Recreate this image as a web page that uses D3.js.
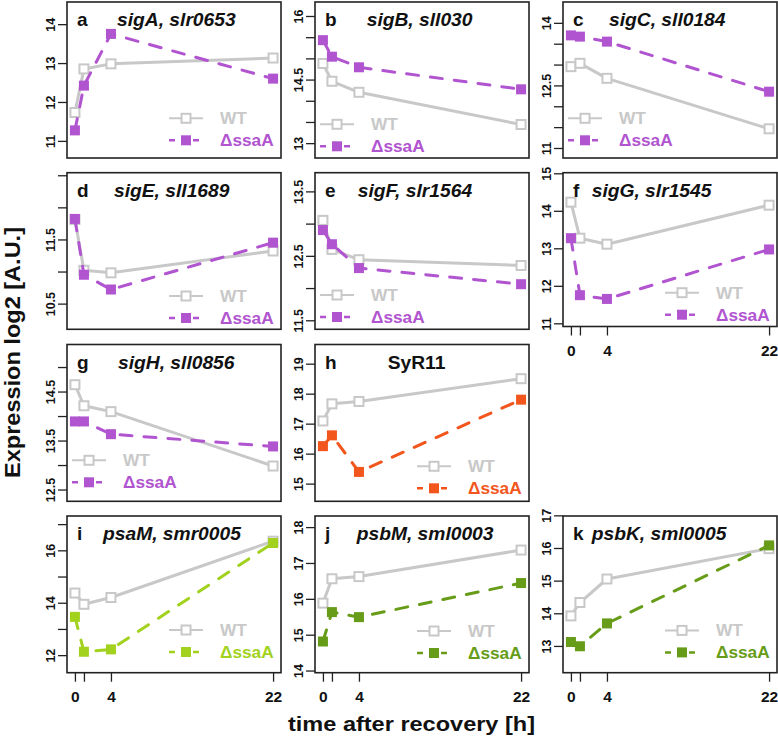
<!DOCTYPE html>
<html>
<head>
<meta charset="utf-8">
<script src="https://cdn.jsdelivr.net/npm/d3@7"></script>
<style>
  html, body { margin: 0; padding: 0; background: #ffffff; }
  svg { display: block; font-family: "Liberation Sans", Arial, Helvetica, sans-serif; }
</style>
</head>
<body>
<script>
// ---------------- DATA ----------------
const times = [0, 1, 4, 22];
const xTickLabels = ["0", "", "4", "22"];
const panelLetters = ["a", "b", "c", "d", "e", "f", "g", "h", "i", "j", "k"];
const geneNames = ["sigA, slr0653", "sigB, sll030", "sigC, sll0184", "sigE, sll1689",
  "sigF, slr1564", "sigG, slr1545", "sigH, sll0856", "SyR11",
  "psaM, smr0005", "psbM, sml0003", "psbK, sml0005"];
const seriesNames = ["WT", "ΔssaA"];

const wtValues = [
  [11.73, 12.85, 12.98, 13.13],
  [14.88, 14.46, 14.20, 13.44],
  [12.95, 13.03, 12.67, 11.46],
  [11.81, 11.02, 10.98, 11.32],
  [13.05, 12.60, 12.44, 12.35],
  [14.23, 13.27, 13.11, 14.15],
  [14.64, 14.21, 14.09, 12.98],
  [17.09, 17.66, 17.74, 18.50],
  [14.37, 13.94, 14.20, 16.35],
  [15.88, 16.56, 16.62, 17.36],
  [13.92, 14.33, 15.05, 15.98]
];
const ssaValues = [
  [11.27, 12.42, 13.75, 12.60],
  [15.43, 15.04, 14.79, 14.27],
  [13.70, 13.67, 13.55, 12.35],
  [11.82, 10.95, 10.72, 11.45],
  [12.90, 12.68, 12.31, 12.06],
  [13.27, 11.75, 11.65, 12.97],
  [13.89, 13.89, 13.63, 13.38],
  [16.25, 16.61, 15.39, 17.80],
  [13.46, 12.13, 12.22, 16.28],
  [14.81, 15.63, 15.49, 16.44],
  [13.12, 12.99, 13.69, 16.08]
];
const yDomains = [
  [10.56, 14.57], [12.65, 16.33], [10.76, 14.50], [10.10, 12.54],
  [11.36, 13.79], [10.915, 15.016], [12.26, 15.46], [14.41, 19.64],
  [11.33, 17.31], [13.94, 18.31], [12.18, 16.98]
];
const yTicks = [
  [11, 12, 13, 14],
  [13, 13.5, 14, 14.5, 15, 15.5, 16],
  [11, 11.5, 12, 12.5, 13, 13.5, 14],
  [10.5, 11, 11.5, 12, 12.5],
  [11.5, 12, 12.5, 13, 13.5],
  [11, 12, 13, 14, 15],
  [12.5, 13, 13.5, 14, 14.5, 15],
  [15, 16, 17, 18, 19],
  [12, 13, 14, 15, 16, 17],
  [14, 15, 16, 17, 18],
  [13, 14, 15, 16, 17]
];
const yTickLabels = [
  [11, 12, 13, 14],
  [13, 14.5, 16],
  [11, 12.5, 14],
  [10.5, 11.5],
  [11.5, 12.5, 13.5],
  [11, 12, 13, 14, 15],
  [12.5, 13.5, 14.5],
  [15, 16, 17, 18, 19],
  [12, 14, 16],
  [14, 15, 16, 17, 18],
  [13, 14, 15, 16, 17]
];
const xLabel = "time after recovery [h]";
const yLabel = "Expression log2 [A.U.]";

// ---------------- STYLE / LAYOUT ----------------
const wtColor = "#c8c8c8";
const mutantColors = ["#b154d0", "#b154d0", "#b154d0", "#b154d0", "#b154d0", "#b154d0",
  "#b154d0", "#f2561d", "#a2d21e", "#679c18", "#679c18"];
const gridRow = [0, 0, 0, 1, 1, 1, 2, 2, 3, 3, 3];
const gridCol = [0, 1, 2, 0, 1, 2, 0, 1, 0, 1, 2];
const hasXAxis = [false, false, false, false, false, true, false, false, true, true, true];
const italicTitle = [true, true, true, true, true, true, true, false, true, true, true];
const titleOffset = [50, 51.7, 46, 47, 42.7, 28.7, 51, 72.7, 36, 41.7, 28.7];
const legendSide = ["right", "left", "left", "right", "left", "right", "left", "right", "right", "right", "right"];
const legendOffset = [39.7, 33.7, 39.7, 33.3, 34.3, 33.8, 41, 35, 42.7, 41.7, 42.3];

const colLeft = [67, 315, 563], colRight = [281, 529, 777];
const rowTop = [2, 172.7, 344.5, 516], rowBottom = [158, 329.3, 501.3, 672.7];

const svg = d3.select("body").append("svg").attr("width", 778).attr("height", 740);

function sText(parent, x, y, str, opts) {
  const g = parent.append("g").attr("transform", `translate(${x},${y}) scale(${opts.sx || 1},1)`);
  const t = g.append("text").attr("x", 0).attr("y", 0)
    .attr("font-size", opts.size).attr("font-weight", opts.weight || "bold")
    .attr("font-style", opts.italic ? "italic" : "normal")
    .attr("text-anchor", opts.anchor || "start")
    .attr("fill", opts.fill || "#111").text(str);
  return t;
}

panelLetters.forEach((letter, p) => {
  const L = colLeft[gridCol[p]], R = colRight[gridCol[p]];
  const T = rowTop[gridRow[p]];
  const B = p === 5 ? 326.5 : rowBottom[gridRow[p]];
  const x = d3.scaleLinear().domain([-0.88, 22.88]).range([L, R]);
  const y = d3.scaleLinear().domain(yDomains[p]).range([B, T]);
  const g = svg.append("g");

  // y axis
  const yAx = g.append("g").attr("transform", `translate(${L},0)`)
    .call(d3.axisLeft(y).tickValues(yTicks[p]).tickSize(9)
      .tickFormat(d => yTickLabels[p].includes(d) ? String(d) : ""));
  yAx.select(".domain").remove();
  yAx.selectAll(".tick line").attr("stroke", "#222").attr("stroke-width", 1.3);
  yAx.selectAll(".tick text")
    .attr("x", 0).attr("y", 0).attr("dy", 0)
    .attr("text-anchor", "middle")
    .attr("transform", "translate(-12,0) rotate(-90)")
    .attr("font-size", 12.5).attr("font-weight", "bold")
    .attr("font-family", "'Liberation Sans', Arial, sans-serif")
    .attr("fill", "#111");

  // x axis
  if (hasXAxis[p]) {
    const xAx = g.append("g").attr("transform", `translate(0,${B})`)
      .call(d3.axisBottom(x).tickValues(times).tickSize(9)
        .tickFormat((d, i) => xTickLabels[i]));
    xAx.select(".domain").remove();
    xAx.selectAll(".tick line").attr("stroke", "#222").attr("stroke-width", 1.3);
    xAx.selectAll(".tick text").attr("y", 29).attr("dy", 0)
      .attr("font-size", 15.5).attr("font-weight", "bold")
      .attr("font-family", "'Liberation Sans', Arial, sans-serif")
      .attr("fill", "#111");
  }

  const line = d3.line().x((d, i) => x(times[i])).y(d => y(d));

  // WT
  g.append("path").datum(wtValues[p]).attr("d", line)
    .attr("fill", "none").attr("stroke", wtColor).attr("stroke-width", 3)
    .attr("stroke-linejoin", "round");
  g.selectAll(null).data(wtValues[p]).join("rect")
    .attr("x", (d, i) => x(times[i]) - 4.5).attr("y", d => y(d) - 4.5)
    .attr("width", 9).attr("height", 9)
    .attr("fill", "#fff").attr("stroke", wtColor).attr("stroke-width", 2);

  // mutant
  const mc = mutantColors[p];
  g.append("path").datum(ssaValues[p]).attr("d", line)
    .attr("fill", "none").attr("stroke", mc).attr("stroke-width", 3)
    .attr("stroke-dasharray", "12 12").attr("stroke-linecap", "round");
  g.selectAll(null).data(ssaValues[p]).join("rect")
    .attr("x", (d, i) => x(times[i]) - 5).attr("y", d => y(d) - 5)
    .attr("width", 10).attr("height", 10).attr("fill", mc);

  // box
  g.append("rect").attr("x", L).attr("y", T).attr("width", R - L).attr("height", B - T)
    .attr("fill", "none").attr("stroke", "#222").attr("stroke-width", 1.6);

  // title
  sText(g, L + 10, T + 24, letter, { size: 19 });
  sText(g, L + titleOffset[p], T + 24, geneNames[p], { size: 17.5, sx: 1.1, italic: italicTitle[p] });

  // legend
  const ly1 = B - legendOffset[p], ly2 = ly1 + 22;
  const lx = legendSide[p] === "right" ? R - 112 : L + 5;
  g.append("line").attr("x1", lx).attr("x2", lx + 34).attr("y1", ly1).attr("y2", ly1)
    .attr("stroke", wtColor).attr("stroke-width", 2);
  g.append("rect").attr("x", lx + 12.5).attr("y", ly1 - 4.5).attr("width", 9).attr("height", 9)
    .attr("fill", "#fff").attr("stroke", wtColor).attr("stroke-width", 2);
  g.append("line").attr("x1", lx).attr("x2", lx + 34).attr("y1", ly2).attr("y2", ly2)
    .attr("stroke", mc).attr("stroke-width", 2.5).attr("stroke-dasharray", "6 6");
  g.append("rect").attr("x", lx + 12).attr("y", ly2 - 5).attr("width", 10).attr("height", 10)
    .attr("fill", mc);
  sText(g, lx + 51, ly1 + 6, seriesNames[0], { size: 16, sx: 1.08, fill: wtColor });
  sText(g, lx + 51, ly2 + 6, seriesNames[1], { size: 16, sx: 1.08, fill: mc });
});

// axis titles
svg.append("text").attr("x", 411.5).attr("y", 731).attr("text-anchor", "middle")
  .attr("font-size", 21).attr("font-weight", "bold").attr("fill", "#111")
  .attr("textLength", 247).attr("lengthAdjust", "spacingAndGlyphs").text(xLabel);
svg.append("text").attr("transform", "translate(20,352.5) rotate(-90)")
  .attr("text-anchor", "middle")
  .attr("font-size", 22).attr("font-weight", "bold").attr("fill", "#111")
  .attr("textLength", 251).attr("lengthAdjust", "spacingAndGlyphs").text(yLabel);
</script>
</body>
</html>
